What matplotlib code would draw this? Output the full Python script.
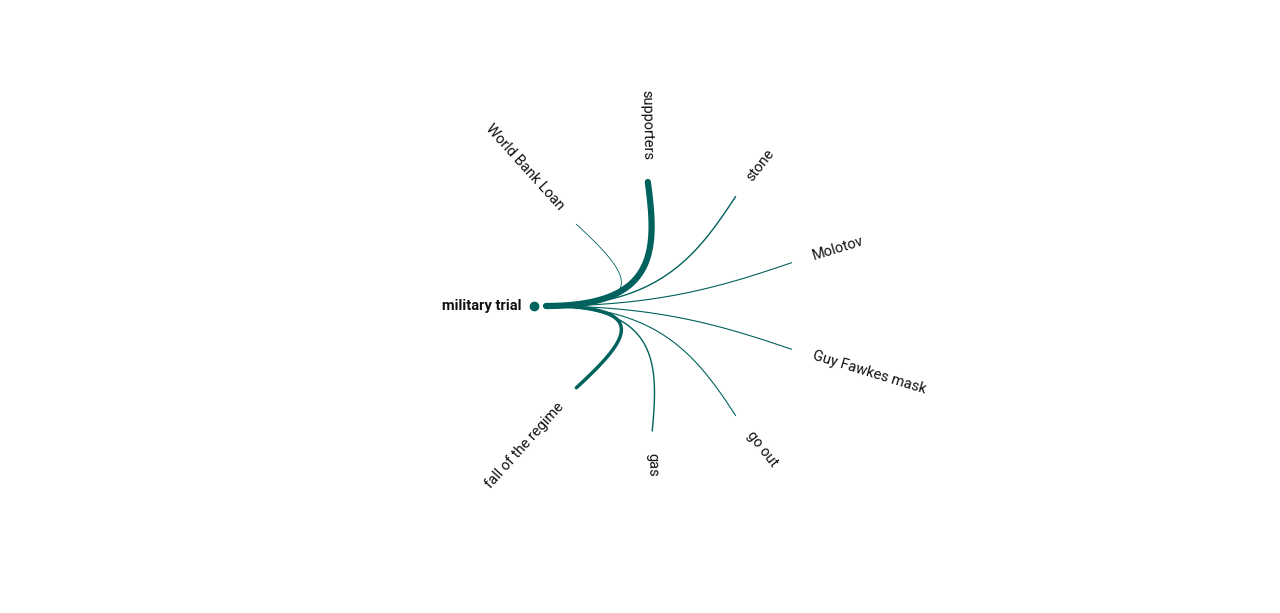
import numpy as np
import matplotlib
matplotlib.use("Agg")
import matplotlib.pyplot as plt

SOURCE = "military trial"
targets = ["supporters", "stone", "Molotov", "Guy Fawkes mask", "go out",
           "gas", "fall of the regime", "World Bank Loan"]
angles = [91, 52, 17, -17, -52, -89, -132, 132]      # degrees
radii = [124, 139, 148, 148, 139, 125, 110, 110]
widths = [4.5, 1.0, 0.8, 0.8, 0.8, 1.0, 2.5, 0.6]

COLOR = "#00625c"
W, H = 1280, 613
cx, cy = 650, H - 306
src_x = 546

fig = plt.figure(figsize=(W / 100, H / 100), dpi=100)
ax = fig.add_axes([0, 0, 1, 1])
ax.set_xlim(0, W)
ax.set_ylim(0, H)
ax.axis("off")


def bezier(p0, p1, p2, p3, n=80):
    t = np.linspace(0, 1, n)[:, None]
    return ((1 - t) ** 3 * p0 + 3 * (1 - t) ** 2 * t * p1
            + 3 * (1 - t) * t ** 2 * p2 + t ** 3 * p3)


for name, a, r, lw in zip(targets, angles, radii, widths):
    th = np.deg2rad(a)
    d = np.array([np.cos(th), np.sin(th)])
    end = np.array([cx, cy]) + r * d
    p0 = np.array([src_x, cy])
    p1 = np.array([cx + 8, cy])
    p2 = np.array([cx, cy]) + 0.45 * r * d + np.array([8, 0])
    pts = bezier(p0, p1, p2, end)
    ax.plot(pts[:, 0], pts[:, 1], color=COLOR, lw=lw, solid_capstyle="round")

    lab = np.array([cx, cy]) + (r + 22) * d
    if -90 <= a <= 90:
        rot, ha = a, "left"
    else:
        rot, ha = a - 180, "right"
    ax.text(lab[0], lab[1], name, rotation=rot, rotation_mode="anchor",
            ha=ha, va="center", fontsize=10.5, family=["Roboto", "DejaVu Sans"],
            color="#111111")

ax.plot([534], [cy], "o", color=COLOR, ms=6)
ax.text(522, cy, SOURCE, ha="right", va="center", fontsize=10.5,
        fontweight="bold", family=["Roboto", "DejaVu Sans"], color="#111111")

fig.savefig("out.png", dpi=100)
